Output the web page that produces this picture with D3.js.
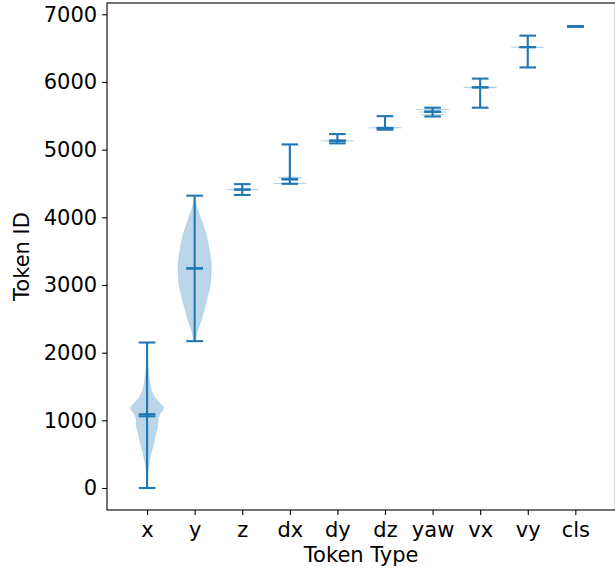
<!DOCTYPE html>
<html>
<head>
<meta charset="utf-8">
<script src="https://cdn.jsdelivr.net/npm/d3@7"></script>
<style>
  html, body { margin: 0; padding: 0; background: #fff; }
  svg { display: block; }
  text { font-family: "DejaVu Sans", sans-serif; fill: #000; }
</style>
</head>
<body>
<svg id="chart" width="615" height="573"></svg>
<script>
// ---- data ----
const categories = ["x", "y", "z", "dx", "dy", "dz", "yaw", "vx", "vy", "cls"];
const mins    = [0,    2170, 4330, 4495, 5093, 5295, 5490, 5620, 6215, 6820];
const maxs    = [2150, 4320, 4490, 5077, 5230, 5495, 5620, 6050, 6685, 6820];
const medians = [1090, 3245, 4410, 4565, 5135, 5322, 5560, 5920, 6515, 6820];
const means   = [1060, 3245, 4410, 4560, 5130, 5318, 5560, 5920, 6515, 6820];
const yTicks  = [0, 1000, 2000, 3000, 4000, 5000, 6000, 7000];

// density profiles: [token id, relative half-width]
const profile_x = [[0,0.01],[75,0.01],[220,0.04],[370,0.12],[515,0.24],[665,0.41],[810,0.53],[900,0.63],[1005,0.65],[1108,0.8],[1180,1.0],[1255,0.76],[1345,0.45],[1450,0.26],[1550,0.17],[1700,0.1],[1890,0.02],[2150,0]];
const profile_y = [[2170,0.01],[2186,0.04],[2304,0.16],[2452,0.36],[2659,0.6],[2851,0.8],[3043,0.96],[3250,1.0],[3486,0.9],[3737,0.7],[3988,0.36],[4180,0.1],[4320,0]];
const profile_z = [[4330,0],[4396,0],[4410,1],[4424,0],[4490,0]];
const profile_dx = [[4495,0],[4500,1],[4512,0],[4578,0],[4590,0.7],[4602,0],[5077,0]];
const profile_dy = [[5093,0],[5118,0],[5130,1],[5142,0],[5230,0]];
const profile_dz = [[5295,0],[5310,0],[5322,1],[5334,0],[5495,0]];
const profile_yaw = [[5490,0],[5505,0],[5515,0.75],[5527,0],[5545,0],[5555,0.85],[5567,0],[5580,0],[5590,1],[5602,0],[5620,0]];
const profile_vx = [[5620,0],[5908,0],[5920,1],[5932,0],[6050,0]];
const profile_vy = [[6215,0],[6502,0],[6514,1],[6526,0],[6685,0]];
const profile_cls = [];
const profiles = [profile_x, profile_y, profile_z, profile_dx, profile_dy, profile_dz, profile_yaw, profile_vx, profile_vy, profile_cls];

// ---- layout ----
const C0 = "#1f77b4";
const FS = 21;
const svg = d3.select("#chart");
const plotL = 107, plotR = 615.4, plotT = 3, plotB = 510;
const positions = categories.map((d, i) => i + 1);
const x = d3.scaleLinear().domain([0.158, 10.842]).range([plotL, plotR]);
const y = d3.scaleLinear().domain([-325, 7167]).range([plotB, plotT]);
const halfW = 0.35;   // violin half width (widths = 0.7)
const capHalf = 0.175;

// violins
const gV = svg.append("g");
profiles.forEach((prof, i) => {
  if (!prof.length) return;
  const pos = positions[i];
  const area = d3.area()
    .y(d => y(d[0]))
    .x0(d => x(pos - halfW * d[1]))
    .x1(d => x(pos + halfW * d[1]))
    .curve(d3.curveMonotoneY);
  gV.append("path")
    .attr("d", area(prof))
    .attr("fill", C0)
    .attr("fill-opacity", 0.3)
    .attr("stroke", C0)
    .attr("stroke-opacity", 0.3)
    .attr("stroke-width", 0.5);
});

// lines
const gL = svg.append("g").attr("stroke", C0).attr("stroke-width", 2.1).attr("fill", "none");
categories.forEach((c, i) => {
  const pos = positions[i];
  gL.append("line").attr("x1", x(pos)).attr("x2", x(pos)).attr("y1", y(mins[i])).attr("y2", y(maxs[i]));
  [mins[i], maxs[i], medians[i], means[i]].forEach(v => {
    gL.append("line")
      .attr("x1", x(pos - capHalf)).attr("x2", x(pos + capHalf))
      .attr("y1", y(v)).attr("y2", y(v));
  });
});

// axes
const yAxis = d3.axisLeft(y).tickValues(yTicks).tickFormat(d3.format("d"))
  .tickSize(4.9).tickSizeOuter(0).tickPadding(4.9);
const gy = svg.append("g").attr("transform", `translate(${plotL},0)`).call(yAxis);
const xAxis = d3.axisBottom(x).tickValues(positions).tickFormat((d, i) => categories[i])
  .tickSize(4.9).tickSizeOuter(0).tickPadding(7);
const gx = svg.append("g").attr("transform", `translate(0,${plotB})`).call(xAxis);
[gx, gy].forEach(g => {
  g.select(".domain").remove();
  g.selectAll(".tick line").attr("stroke", "#000").attr("stroke-width", 1.1);
  g.selectAll(".tick text").attr("font-size", FS).attr("font-family", "DejaVu Sans").attr("fill", "#000");
});

// spines
svg.append("rect")
  .attr("x", plotL).attr("y", plotT)
  .attr("width", plotR - plotL).attr("height", plotB - plotT)
  .attr("fill", "none").attr("stroke", "#000").attr("stroke-width", 1.1);

// labels
svg.append("text")
  .attr("x", (plotL + plotR) / 2).attr("y", 562)
  .attr("text-anchor", "middle").attr("font-size", FS)
  .text("Token Type");
svg.append("text")
  .attr("transform", `translate(29,${(plotT + plotB) / 2}) rotate(-90)`)
  .attr("text-anchor", "middle").attr("font-size", FS)
  .text("Token ID");
</script>
</body>
</html>
